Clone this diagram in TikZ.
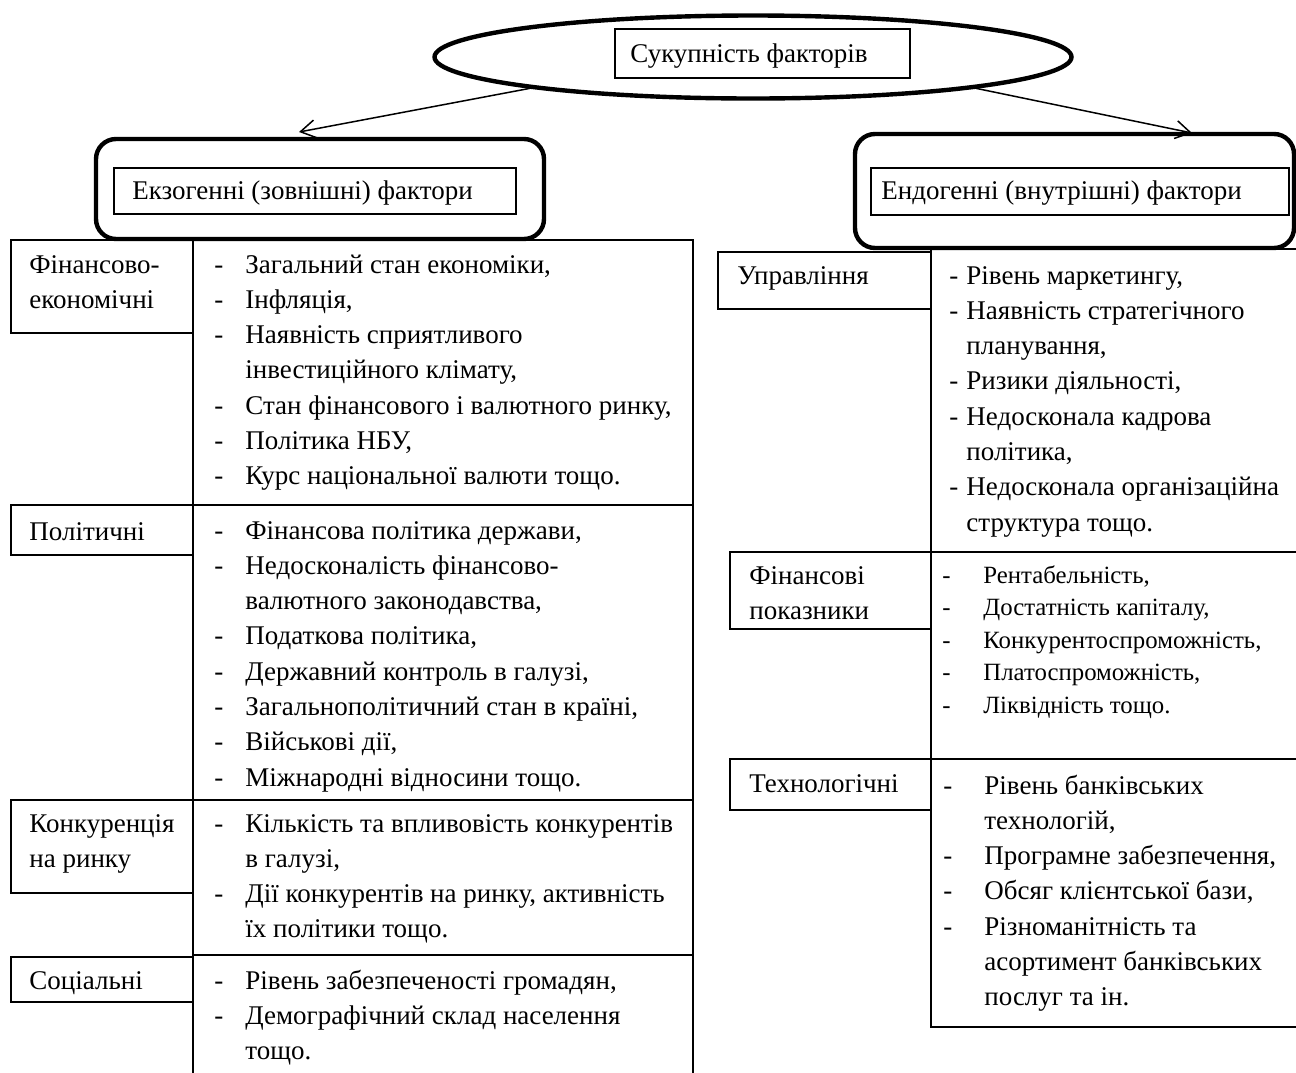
\documentclass[tikz,border=0pt]{standalone}
\usepackage{fontspec}
\setmainfont{Liberation Serif}
\usepackage{array}
\usetikzlibrary{arrows.meta,shapes.geometric,fit}

\newcommand{\flist}[2]{\begin{tabular}[t]{@{}p{#1}@{}l@{}}#2\end{tabular}}
\newcommand{\lines}[1]{\begin{tabular}[t]{@{}l@{}}#1\end{tabular}}

\begin{document}
\begin{tikzpicture}[x=0.5pt,y=-0.5pt,
  font=\fontsize{13.5}{17.65}\selectfont,
  cell/.style={draw,line width=0.6pt,inner sep=0pt},
  bold/.style={draw,line width=2.2pt,inner sep=0pt,rounded corners=10pt},
  txt/.style={inner sep=0pt,anchor=base west},
  small/.style={font=\fontsize{12.4}{16.25}\selectfont},
  arr/.style={-{Straight Barb[length=7.5pt,width=9pt]},line width=0.75pt}]
\useasboundingbox (0,0) rectangle (1296,1072);
% top
\node[draw,ellipse,line width=2.2pt,inner sep=0pt,minimum width=318.5pt,minimum height=41.5pt] (all) at (753,57) {};
\node[cell,fit={(615,29) (910,78)}] (allbox) {};
\node[txt] (alltxt) at (630,62) {Сукупність факторів};
% two groups
\node[bold,fit={(96,139) (544,239)}] (exo) {};
\node[cell,fit={(114,168) (516,214)}] (exobox) {};
\node[txt] (exotxt) at (132,199) {Екзогенні (зовнішні) фактори};
\node[bold,fit={(855,134) (1294,248)}] (endo) {};
\node[cell,fit={(871,168) (1289,215)}] (endobox) {};
\node[txt] (endotxt) at (881,199) {Ендогенні (внутрішні) фактори};
\coordinate (exotip) at (299,132);
\coordinate (endotip) at (1192,133);
\draw[arr] (all.188) -- (exotip);
\draw[arr] (all.352) -- (endotip);
% left column
\node[cell,fit={(11,240) (193,333)}] (econ) {};
\node[cell,fit={(193,240) (693,505)}] (econc) {};
\node[cell,fit={(11,505) (193,555)}] (pol) {};
\node[cell,fit={(193,505) (693,800)}] (polc) {};
\node[cell,fit={(11,800) (193,893)}] (comp) {};
\node[cell,fit={(193,800) (693,955)}] (compc) {};
\node[cell,fit={(11,957) (193,1002)}] (soc) {};
\node[cell,fit={(193,955) (693,1090)}] (socc) {};
\node[txt] (econtxt) at (29,273) {\lines{Фінансово-\\економічні}};
\node[txt] (poltxt) at (29,540) {Політичні};
\node[txt] (comptxt) at (29,832) {\lines{Конкуренція\\на ринку}};
\node[txt] (soctxt) at (29,989) {Соціальні};
\node[txt] (econlist) at (214,273) {\flist{15.5pt}{-&Загальний стан економіки,\\
  -&Інфляція,\\
  -&Наявність сприятливого\\
   &інвестиційного клімату,\\
  -&Стан фінансового і валютного ринку,\\
  -&Політика НБУ,\\
  -&Курс національної валюти тощо.}};
\node[txt] (pollist) at (214,539) {\flist{15.5pt}{-&Фінансова політика держави,\\
  -&Недосконалість фінансово-\\
   &валютного законодавства,\\
  -&Податкова політика,\\
  -&Державний контроль в галузі,\\
  -&Загальнополітичний стан в країні,\\
  -&Військові дії,\\
  -&Міжнародні відносини тощо.}};
\node[txt] (complist) at (214,832) {\flist{15.5pt}{-&Кількість та впливовість конкурентів\\
   &в галузі,\\
  -&Дії конкурентів на ринку, активність\\
   &їх політики тощо.}};
\node[txt] (soclist) at (214,989) {\flist{15.5pt}{-&Рівень забезпеченості громадян,\\
  -&Демографічний склад населення\\
   &тощо.}};
% right column
\node[cell,fit={(718,252) (931,309)}] (upr) {};
\node[cell,fit={(931,249) (1300,552)}] (uprc) {};
\node[cell,fit={(730,552) (931,629)}] (finp) {};
\node[cell,fit={(931,552) (1300,759)}] (finpc) {};
\node[cell,fit={(730,759) (931,810)}] (tech) {};
\node[cell,fit={(931,759) (1300,1027)}] (techc) {};
\node[txt] (uprtxt) at (737,284) {Управління};
\node[txt] (finptxt) at (749,584) {\lines{Фінансові\\показники}};
\node[txt] (techtxt) at (749,792) {Технологічні};
\node[txt] (uprlist) at (949,284) {\flist{8.5pt}{-&Рівень маркетингу,\\
  -&Наявність стратегічного\\
   &планування,\\
  -&Ризики діяльності,\\
  -&Недосконала кадрова\\
   &політика,\\
  -&Недосконала організаційна\\
   &структура тощо.}};
\node[txt,small] (finplist) at (942,583) {\flist{20.5pt}{-&Рентабельність,\\
  -&Достатність капіталу,\\
  -&Конкурентоспроможність,\\
  -&Платоспроможність,\\
  -&Ліквідність тощо.}};
\node[txt] (techlist) at (943,794) {\flist{20.5pt}{-&Рівень банківських\\
   &технологій,\\
  -&Програмне забезпечення,\\
  -&Обсяг клієнтської бази,\\
  -&Різноманітність та\\
   &асортимент банківських\\
   &послуг та ін.}};
\end{tikzpicture}
\end{document}
